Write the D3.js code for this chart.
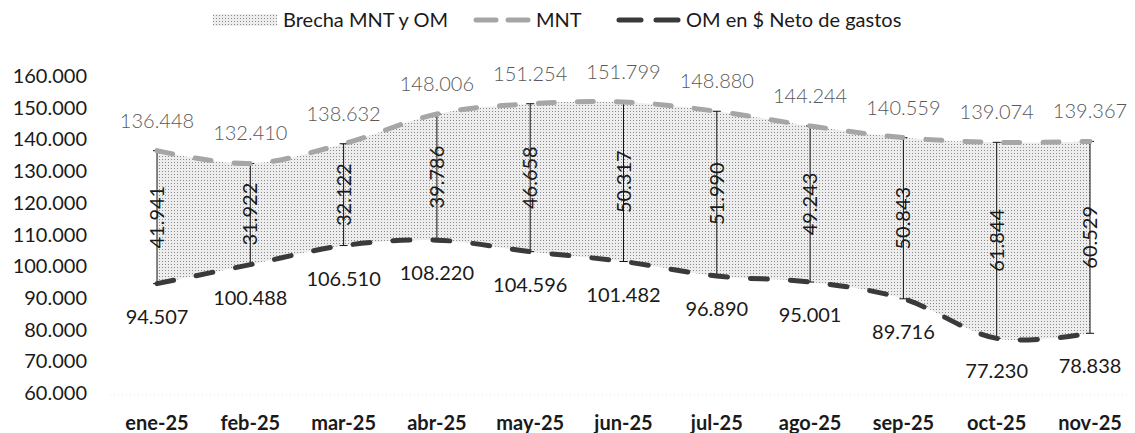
<!DOCTYPE html>
<html>
<head>
<meta charset="utf-8">
<script src="https://cdn.jsdelivr.net/npm/d3@7"></script>
<style>
  html, body { margin: 0; padding: 0; background: #fff; }
  svg { display: block; font-family: Lato, "Open Sans", sans-serif; }
</style>
</head>
<body>
<div id="chart"></div>
<script>
// months, MNT, OM neto and the gap between them
const months = ["ene-25", "feb-25", "mar-25", "abr-25", "may-25", "jun-25",
                "jul-25", "ago-25", "sep-25", "oct-25", "nov-25"];
const mnt = [136448, 132410, 138632, 148006, 151254, 151799,
             148880, 144244, 140559, 139074, 139367];
const om = [94507, 100488, 106510, 108220, 104596, 101482,
            96890, 95001, 89716, 77230, 78838];
const brecha = [41941, 31922, 32122, 39786, 46658, 50317,
                51990, 49243, 50843, 61844, 60529];
const yTicks = [60000, 70000, 80000, 90000, 100000, 110000,
                120000, 130000, 140000, 150000, 160000];
const legendLabels = ["Brecha MNT y OM", "MNT", "OM en $ Neto de gastos"];

const width = 1135, height = 433;
const fmt = v => d3.format(",")(v).replace(/,/g, ".");

const rows = months.map((m, i) => ({ m, mnt: mnt[i], om: om[i], gap: brecha[i] }));

const svg = d3.select("#chart").append("svg")
  .attr("width", width)
  .attr("height", height)
  .attr("viewBox", [0, 0, width, height]);

// stippled fill, like the scanned area
const defs = svg.append("defs");
const pat = defs.append("pattern")
  .attr("id", "stipple")
  .attr("width", 3).attr("height", 3)
  .attr("patternUnits", "userSpaceOnUse");
pat.append("rect").attr("width", 3).attr("height", 3).attr("fill", "#ededed");
pat.append("rect").attr("width", 1).attr("height", 1).attr("fill", "#8a8a8a");

const x = d3.scalePoint().domain(months).range([157, 1090]);
const y = d3.scaleLinear().domain([60000, 160000]).range([393, 76]);

const curve = d3.curveCardinal.tension(0);

// faint base line
svg.append("line")
  .attr("x1", 110).attr("x2", 1130)
  .attr("y1", y(60000) + 2).attr("y2", y(60000) + 2)
  .attr("stroke", "#e6e6e6")
  .attr("stroke-dasharray", "1,3");

// y axis labels
svg.append("g")
  .selectAll("text")
  .data(yTicks)
  .join("text")
  .attr("x", 87)
  .attr("y", d => y(d) + 7)
  .attr("text-anchor", "end")
  .attr("font-size", 20)
  .attr("fill", "#1a1a1a")
  .text(fmt);

// x axis labels
svg.append("g")
  .selectAll("text")
  .data(months)
  .join("text")
  .attr("x", d => x(d))
  .attr("y", 430)
  .attr("text-anchor", "middle")
  .attr("font-size", 20)
  .attr("font-weight", "bold")
  .attr("fill", "#1a1a1a")
  .text(d => d);

// gap area
svg.append("path")
  .datum(rows)
  .attr("fill", "url(#stipple)")
  .attr("d", d3.area()
    .x(d => x(d.m))
    .y0(d => y(d.om))
    .y1(d => y(d.mnt))
    .curve(curve));

// vertical gap bars with caps
const bars = svg.append("g").attr("stroke", "#111").attr("stroke-width", 1);
bars.selectAll("line.v")
  .data(rows)
  .join("line")
  .attr("class", "v")
  .attr("x1", d => x(d.m)).attr("x2", d => x(d.m))
  .attr("y1", d => y(d.mnt)).attr("y2", d => y(d.om));
bars.selectAll("line.t")
  .data(rows)
  .join("line")
  .attr("class", "t")
  .attr("x1", d => x(d.m) - 4).attr("x2", d => x(d.m) + 4)
  .attr("y1", d => y(d.mnt)).attr("y2", d => y(d.mnt));
bars.selectAll("line.b")
  .data(rows)
  .join("line")
  .attr("class", "b")
  .attr("x1", d => x(d.m) - 4).attr("x2", d => x(d.m) + 4)
  .attr("y1", d => y(d.om)).attr("y2", d => y(d.om));

// dashed lines
const line = key => d3.line().x(d => x(d.m)).y(d => y(d[key])).curve(curve);
svg.append("path")
  .datum(rows)
  .attr("fill", "none")
  .attr("stroke", "#a6a6a6")
  .attr("stroke-width", 5)
  .attr("stroke-linecap", "round")
  .attr("stroke-dasharray", "16,23")
  .attr("d", line("mnt"));
svg.append("path")
  .datum(rows)
  .attr("fill", "none")
  .attr("stroke", "#3a3a3a")
  .attr("stroke-width", 5)
  .attr("stroke-linecap", "round")
  .attr("stroke-dasharray", "17,23")
  .attr("d", line("om"));

// labels
svg.append("g")
  .selectAll("text")
  .data(rows)
  .join("text")
  .attr("x", d => x(d.m))
  .attr("y", d => y(d.mnt) - 23)
  .attr("text-anchor", "middle")
  .attr("font-size", 20)
  .attr("font-weight", 300)
  .attr("fill", "#595959")
  .text(d => fmt(d.mnt));

svg.append("g")
  .selectAll("text")
  .data(rows)
  .join("text")
  .attr("x", d => x(d.m))
  .attr("y", d => y(d.om) + 40)
  .attr("text-anchor", "middle")
  .attr("font-size", 20)
  .attr("fill", "#1a1a1a")
  .text(d => fmt(d.om));

svg.append("g")
  .selectAll("text")
  .data(rows)
  .join("text")
  .attr("transform", d => `translate(${x(d.m)},${(y(d.mnt) + y(d.om)) / 2}) rotate(-90)`)
  .attr("text-anchor", "middle")
  .attr("dy", "0.35em")
  .attr("font-size", 20)
  .attr("fill", "#1a1a1a")
  .text(d => fmt(d.gap));

// legend
const lg = svg.append("g").attr("font-size", 20).attr("fill", "#1a1a1a");
lg.append("rect")
  .attr("x", 213).attr("y", 14).attr("width", 64).attr("height", 12)
  .attr("fill", "url(#stipple)");
lg.append("text").attr("x", 283).attr("y", 27).text(legendLabels[0]);

lg.append("path")
  .attr("d", "M476,20H528")
  .attr("stroke", "#a6a6a6").attr("stroke-width", 5)
  .attr("stroke-linecap", "round").attr("stroke-dasharray", "20,12");
lg.append("text").attr("x", 536).attr("y", 27).text(legendLabels[1]);

lg.append("path")
  .attr("d", "M619,20H678")
  .attr("stroke", "#3a3a3a").attr("stroke-width", 5)
  .attr("stroke-linecap", "round").attr("stroke-dasharray", "22,15");
lg.append("text").attr("x", 686).attr("y", 27).text(legendLabels[2]);
</script>
</body>
</html>
